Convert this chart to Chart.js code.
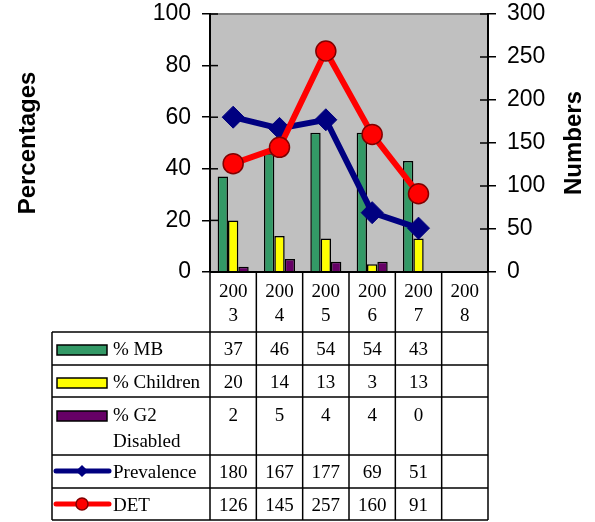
<!DOCTYPE html>
<html>
<head>
<meta charset="utf-8">
<script src="https://cdn.jsdelivr.net/npm/chart.js@4/dist/chart.umd.min.js"></script>
<style>
  html, body { margin: 0; padding: 0; background: #fff; }
  canvas { display: block; }
</style>
</head>
<body>
<canvas id="chart" width="595" height="522"></canvas>
<script>
// data
const years = ['2003', '2004', '2005', '2006', '2007', '2008'];
const pctMB = [37, 46, 54, 54, 43, null];
const pctChildren = [20, 14, 13, 3, 13, null];
const pctG2 = [2, 5, 4, 4, 0, null];
const prevalence = [180, 167, 177, 69, 51, null];
const det = [126, 145, 257, 160, 91, null];

const sans = '"Liberation Sans", Arial, sans-serif';
const serif = '"Liberation Serif", "Times New Roman", serif';

function line(ctx, x1, y1, x2, y2) {
    ctx.beginPath();
    ctx.moveTo(x1, y1);
    ctx.lineTo(x2, y2);
    ctx.stroke();
}

// gray plot area with a gray top edge
const plotBg = {
    id: 'plotBg',
    beforeDraw(chart) {
        const { ctx, chartArea: a } = chart;
        ctx.save();
        ctx.fillStyle = '#c0c0c0';
        ctx.fillRect(a.left, a.top, a.right - a.left, a.bottom - a.top);
        ctx.strokeStyle = '#808080';
        ctx.lineWidth = 2;
        line(ctx, a.left, a.top, a.right, a.top);
        ctx.restore();
    }
};

// inner half of the tick marks, the x axis line and the right title
const axisExtras = {
    id: 'axisExtras',
    afterDraw(chart) {
        const { ctx, chartArea: a, scales } = chart;
        ctx.save();
        ctx.strokeStyle = '#000';
        ctx.lineWidth = 1.5;
        scales.yL.ticks.forEach(t => {
            const y = scales.yL.getPixelForValue(t.value);
            line(ctx, a.left, y, a.left + 8, y);
        });
        scales.yR.ticks.forEach(t => {
            const y = scales.yR.getPixelForValue(t.value);
            line(ctx, a.right - 8, y, a.right, y);
        });
        ctx.lineWidth = 2;
        line(ctx, a.left, a.bottom, a.right, a.bottom);

        ctx.translate(574, (a.top + a.bottom) / 2);
        ctx.rotate(-Math.PI / 2);
        ctx.fillStyle = '#000';
        ctx.font = 'bold 24px ' + sans;
        ctx.textAlign = 'center';
        ctx.textBaseline = 'middle';
        ctx.fillText('Numbers', 0, 0);
        ctx.restore();
    }
};

// data table under the plot, columns follow the x scale
const dataTable = {
    id: 'dataTable',
    afterDraw(chart) {
        const { ctx, chartArea: a, scales } = chart;
        const x = scales.x;
        const ds = chart.data.datasets;
        const half = (x.getPixelForValue(1) - x.getPixelForValue(0)) / 2;
        const legendLeft = 52;
        const headH = 60;
        const rows = [
            { idx: 2, text: ['% MB'], h: 33 },
            { idx: 3, text: ['% Children'], h: 32 },
            { idx: 4, text: ['% G2', 'Disabled'], h: 58 },
            { idx: 1, text: ['Prevalence'], h: 33 },
            { idx: 0, text: ['DET'], h: 32 }
        ];

        ctx.save();
        ctx.strokeStyle = '#000';
        ctx.lineWidth = 1.5;
        ctx.fillStyle = '#000';
        ctx.font = '19px ' + serif;
        ctx.textAlign = 'center';
        ctx.textBaseline = 'alphabetic';

        const top = a.bottom;
        let bottom = top + headH;
        rows.forEach(r => bottom += r.h);

        // header with the years
        years.forEach((yr, i) => {
            const cx = x.getPixelForValue(i);
            ctx.fillText(yr.slice(0, 3), cx, top + 25);
            ctx.fillText(yr.slice(3), cx, top + 49);
        });

        // column lines
        for (let i = 0; i <= years.length; i++) {
            const bx = x.getPixelForValue(0) - half + i * half * 2;
            line(ctx, bx, top, bx, bottom);
        }
        line(ctx, legendLeft, top + headH, legendLeft, bottom);

        let y = top + headH;
        line(ctx, legendLeft, y, a.right, y);
        rows.forEach(r => {
            const d = ds[r.idx];
            const base = y + (r.h > 40 ? 24 : 23);
            // values
            ctx.textAlign = 'center';
            d.data.forEach((v, i) => {
                if (v !== null) ctx.fillText(String(v), x.getPixelForValue(i), base);
            });
            // legend key
            if (d.type === 'line') {
                const ky = base - 7;
                ctx.save();
                ctx.strokeStyle = d.borderColor;
                ctx.lineWidth = 5;
                ctx.lineCap = 'round';
                line(ctx, 56, ky, 109, ky);
                ctx.fillStyle = d.pointBackgroundColor;
                ctx.strokeStyle = d.pointBorderColor;
                ctx.lineWidth = 1.5;
                ctx.beginPath();
                if (d.pointStyle === 'circle') {
                    ctx.arc(82, ky, 6, 0, Math.PI * 2);
                } else {
                    ctx.moveTo(82 - 5, ky);
                    ctx.lineTo(82, ky - 5);
                    ctx.lineTo(82 + 5, ky);
                    ctx.lineTo(82, ky + 5);
                    ctx.closePath();
                }
                ctx.fill();
                ctx.stroke();
                ctx.restore();
            } else {
                ctx.save();
                ctx.fillStyle = d.backgroundColor;
                ctx.fillRect(57, base - 10, 50, 10);
                ctx.strokeStyle = '#000';
                ctx.lineWidth = 1.5;
                ctx.strokeRect(57, base - 10, 50, 10);
                ctx.restore();
            }
            ctx.textAlign = 'left';
            r.text.forEach((t, k) => ctx.fillText(t, 113, base + k * 26));

            y += r.h;
            line(ctx, legendLeft, y, a.right, y);
        });
        ctx.restore();
    }
};

const yFont = { family: sans, size: 23 };

new Chart(document.getElementById('chart'), {
    type: 'bar',
    data: {
        labels: years,
        datasets: [
            {
                type: 'line',
                label: 'DET',
                data: det,
                yAxisID: 'yR',
                borderColor: '#ff0000',
                borderWidth: 6,
                pointStyle: 'circle',
                pointRadius: 10,
                pointBackgroundColor: '#ff0000',
                pointBorderColor: '#800000',
                pointBorderWidth: 1.5
            },
            {
                type: 'line',
                label: 'Prevalence',
                data: prevalence,
                yAxisID: 'yR',
                borderColor: '#000080',
                borderWidth: 6,
                pointStyle: 'rectRot',
                pointRadius: 11,
                pointBackgroundColor: '#000080',
                pointBorderColor: '#000080',
                pointBorderWidth: 1
            },
            { label: '% MB', data: pctMB, yAxisID: 'yL', backgroundColor: '#339966', borderColor: '#000', borderWidth: 1.5 },
            { label: '% Children', data: pctChildren, yAxisID: 'yL', backgroundColor: '#ffff00', borderColor: '#000', borderWidth: 1.5 },
            { label: '% G2 Disabled', data: pctG2, yAxisID: 'yL', backgroundColor: '#660066', borderColor: '#000', borderWidth: 1.5 }
        ]
    },
    options: {
        responsive: false,
        animation: false,
        events: [],
        layout: { padding: { top: 14, bottom: 250, left: 0, right: 0 } },
        datasets: {
            bar: { categoryPercentage: 0.67, barPercentage: 1 }
        },
        plugins: {
            legend: { display: false },
            tooltip: { enabled: false }
        },
        scales: {
            x: { display: false },
            yL: {
                position: 'left',
                min: 0,
                max: 100,
                ticks: { stepSize: 20, color: '#000', font: yFont, padding: 11 },
                grid: { drawOnChartArea: false, color: '#000', lineWidth: 1.5, tickLength: 8 },
                border: { color: '#000', width: 2 },
                title: {
                    display: true,
                    text: 'Percentages',
                    color: '#000',
                    font: { family: sans, size: 24, weight: 'bold' },
                    padding: { top: 14, bottom: 0 }
                },
                afterFit(scale) {
                    scale.width = 210;
                    scale.paddingTop = 0;
                    scale.paddingBottom = 0;
                }
            },
            yR: {
                position: 'right',
                min: 0,
                max: 300,
                ticks: { stepSize: 50, color: '#000', font: yFont, padding: 11 },
                grid: { drawOnChartArea: false, color: '#000', lineWidth: 1.5, tickLength: 8 },
                border: { color: '#000', width: 2 },
                afterFit(scale) {
                    scale.width = 107;
                    scale.paddingTop = 0;
                    scale.paddingBottom = 0;
                }
            }
        }
    },
    plugins: [plotBg, axisExtras, dataTable]
});
</script>
</body>
</html>
